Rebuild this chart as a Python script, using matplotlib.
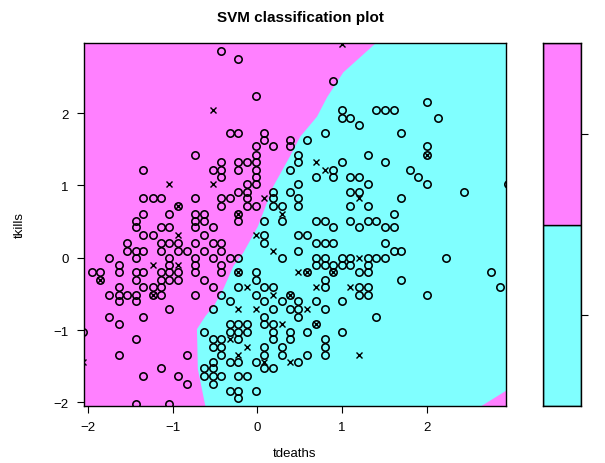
import matplotlib
matplotlib.use("Agg")
import matplotlib.pyplot as plt
import numpy as np

plt.rcParams['font.family'] = ['Liberation Sans', 'DejaVu Sans']

# colours of the two classes (R cm.colors(2))
col_0 = '#80FFFF'
col_1 = '#FF80FF'

# decision boundary: x of the class change for each tkills value
bnd_y = [-2.05, -1.53, -0.98, -0.80, -0.66, -0.43, -0.11, 0.08, 0.44, 0.99, 1.41, 1.68, 1.96, 2.23, 2.57, 2.97]
bnd_x = [-0.62, -0.71, -0.72, -0.62, -0.52, -0.41, -0.29, -0.17, 0.00, 0.18, 0.38, 0.50, 0.70, 0.82, 1.01, 1.39]
# small class-1 corner at bottom right
corner_x = [2.65, 2.94, 2.94]
corner_y = [-2.05, -1.84, -2.05]

# data points ("o"), grouped by row
o_rows = {
    2.86: [-0.43],
    2.75: [-0.23],
    2.45: [0.89],
    2.24: [-0.02],
    2.15: [2.01],
    2.04: [1.00, 1.40, 1.51, 1.61],
    1.93: [1.00, 1.10, 2.14],
    1.84: [1.20],
    1.73: [-0.32, -0.23, 0.08, 0.80, 1.70],
    1.63: [0.08, 0.38, 0.59],
    1.54: [-0.02, 0.18, 0.38, 2.01],
    1.42: [-0.74, -0.02, 0.48, 1.31],
    1.33: [-0.43, -0.23, -0.12, -0.02, 0.48, 1.00, 1.51],
    1.22: [-1.35, -0.52, -0.43, -0.23, -0.02, 0.38, 0.89, 1.81],
    1.12: [-0.43, -0.02, 0.69, 0.89, 1.10, 1.20, 1.90],
    1.02: [-0.12, -0.02, 0.48, 1.31, 2.01, 2.96],
    0.91: [-0.23, -0.12, 0.18, 0.38, 1.10, 1.20, 2.44],
    0.82: [-1.35, -1.24, -1.14, -0.74, -0.43, -0.32, -0.12, 0.18, 0.48, 1.70],
    0.71: [-0.43, -0.12, -0.02, 0.18, 0.29, 0.48, 1.10, 1.31],
    0.61: [-1.35, -1.04, -0.74, -0.63, 1.61],
    0.51: [-1.44, -0.74, -0.63, -0.23, 0.08, 0.29, 0.69, 0.80, 1.10, 1.31, 1.40],
    0.42: [-1.44, -1.14, -1.04, -0.74, -0.52, 0.89, 1.20, 1.51, 1.61],
    0.31: [-1.35, -1.24, -0.63, 0.08, 0.48, 0.59],
    0.20: [-1.54, -1.14, -1.04, -0.94, -0.74, -0.52, -0.43, 0.08, 0.69, 0.80, 0.89, 1.51],
    0.10: [-1.54, -1.44, -1.35, -1.14, -0.94, -0.83, -0.63, -0.43, 0.48, 1.61, 1.70],
    0.00: [-1.75, -1.44, -1.04, -0.74, -0.52, -0.32, -0.23, 0.29, 0.69, 0.80, 1.00, 1.10, 1.31, 1.40, 1.51, 2.23],
    -0.10: [-1.64, -1.04, -0.74, -0.43, 0.69, 0.80, 0.89, 1.00, 1.10, 1.31],
    -0.19: [-1.95, -1.86, -1.64, -1.44, -1.35, -1.14, -1.04, -0.94, -0.74, -0.43, -0.02, 1.20, 1.31, 2.76],
    -0.31: [-1.44, -1.14, -1.04, -0.94, -0.63, -0.02, 0.80, 1.70],
    -0.41: [-1.64, -1.35, -1.24, -1.14, -0.52, -0.23, 0.08, 0.18, 0.80, 1.20, 1.31, 2.87],
    -0.51: [-1.75, -1.64, -1.54, -1.44, -1.14, -0.74, -0.43, -0.02, 1.20, 1.31, 2.01],
    -0.60: [-1.64, -1.44, -0.32, 0.08, 0.29, 0.48, 0.69, 1.00],
    -0.71: [-1.04, -0.52, 0.18, 0.38, 0.48, 0.80],
    -0.82: [-1.75, -1.35, 0.08, 0.48, 1.40],
    -0.92: [-1.64, -0.32, -0.23, -0.12, 0.08, 0.18],
    -1.02: [-2.06, -0.63, -0.32, -0.23, -0.12, 0.18, 0.38, 0.59, 1.00],
    -1.13: [-1.44, -0.52, -0.43, -0.23, 0.18, 0.38, 0.80],
    -1.23: [-0.52, -0.43, 0.08, 0.29, 0.80],
    -1.34: [-1.64, -0.83, -0.43, 0.08, 0.29, 0.59, 0.80],
    -1.44: [-0.52, -0.32, -0.23, -0.02, 0.48],
    -1.53: [-1.14, -0.63, -0.52, 0.08, 0.18],
    -1.64: [-1.35, -0.94, -0.63, -0.52, -0.43, -0.23, -0.12],
    -1.74: [-0.83, -0.52],
    -1.84: [-0.32, -0.23, -0.02],
    -1.94: [-0.23],
    -2.02: [-1.44, -1.04],
}

# support vectors ("x")
sv_x = [-0.52, -1.04, -0.52, 1.00, 0.69, 0.80, 0.08, 1.20, 0.29, -0.94, -0.02, -1.24, -0.94,
        0.18, 1.20, 0.48, -0.12, 0.69, 1.10, 0.18, -0.23, -0.02, 0.59, 0.29, -0.32, -0.12,
        -0.23, 1.20, -2.06, 0.08, 0.38]
sv_y = [2.04, 1.02, 1.02, 2.96, 1.33, 1.22, 0.82, 0.82, 0.61, 0.31, 0.31, -0.10, -0.10,
        0.10, 0.00, -0.19, -0.41, -0.41, -0.41, -0.51, -0.71, -0.71, -0.71, -0.92, -1.13, -1.23,
        -1.34, -1.34, -1.44, -1.44, -1.44]

# points drawn with both symbols
both_x = [-0.94, -0.23, 2.01, -0.23, -1.86, -1.24, 0.59, 0.89, 0.38, 0.69]
both_y = [0.71, 0.61, 1.42, -0.19, -0.31, -0.51, -0.19, -0.19, -0.51, -0.92]

class_labels = ['0', '1']

o_x = []
o_y = []
for yv, xs in o_rows.items():
    for xv in xs:
        o_x.append(xv)
        o_y.append(yv)
o_x = o_x + both_x
o_y = o_y + both_y
x_x = sv_x + both_x
x_y = sv_y + both_y

xlim = (-2.05, 2.94)
ylim = (-2.05, 2.97)

fig = plt.figure(figsize=(6.05, 4.64), dpi=100)
ax = fig.add_axes([84 / 605, 57 / 464, 422 / 605, 363 / 464])
ax.set_facecolor(col_0)
ax.fill_betweenx(bnd_y, xlim[0], bnd_x, color=col_1, lw=0)
ax.fill(corner_x, corner_y, color=col_1, lw=0)

ax.plot(o_x, o_y, ls='none', marker='o', ms=5.3, mfc='none', mec='black', mew=1.15, clip_on=True)
ax.plot(x_x, x_y, ls='none', marker='x', ms=4.8, mec='black', mew=1.0, clip_on=True)

ax.set_xlim(xlim)
ax.set_ylim(ylim)
ax.set_xticks([-2, -1, 0, 1, 2])
ax.set_yticks([-2, -1, 0, 1, 2])
ax.set_xticklabels(['\u22122', '\u22121', '0', '1', '2'])
ax.set_yticklabels(['\u22122', '\u22121', '0', '1', '2'])
ax.tick_params(labelsize=9.5, length=5, width=0.8, pad=6)
for s in ax.spines.values():
    s.set_linewidth(1.0)
ax.set_xlabel('tdeaths', fontsize=9.5, labelpad=10)
ax.set_ylabel('tkills', fontsize=9.5, labelpad=20)
fig.text(0.496, 0.962, 'SVM classification plot', ha='center', va='center',
         fontsize=11, fontweight='bold')

# colour key
kax = fig.add_axes([543 / 605, 57 / 464, 38 / 605, 363 / 464])
kax.bar([0], [1], bottom=[0], width=1, color=col_0, edgecolor='black', lw=1.0)
kax.bar([0], [1], bottom=[1], width=1, color=col_1, edgecolor='black', lw=1.0)
kax.set_xlim(-0.5, 0.5)
kax.set_ylim(0, 2)
kax.set_xticks([])
kax.yaxis.tick_right()
kax.set_yticks([0.5, 1.5])
kax.set_yticklabels(class_labels)
kax.tick_params(labelsize=9.5, length=5, width=0.8, pad=14)
for s in kax.spines.values():
    s.set_linewidth(1.0)

fig.savefig('out.png', dpi=100)
